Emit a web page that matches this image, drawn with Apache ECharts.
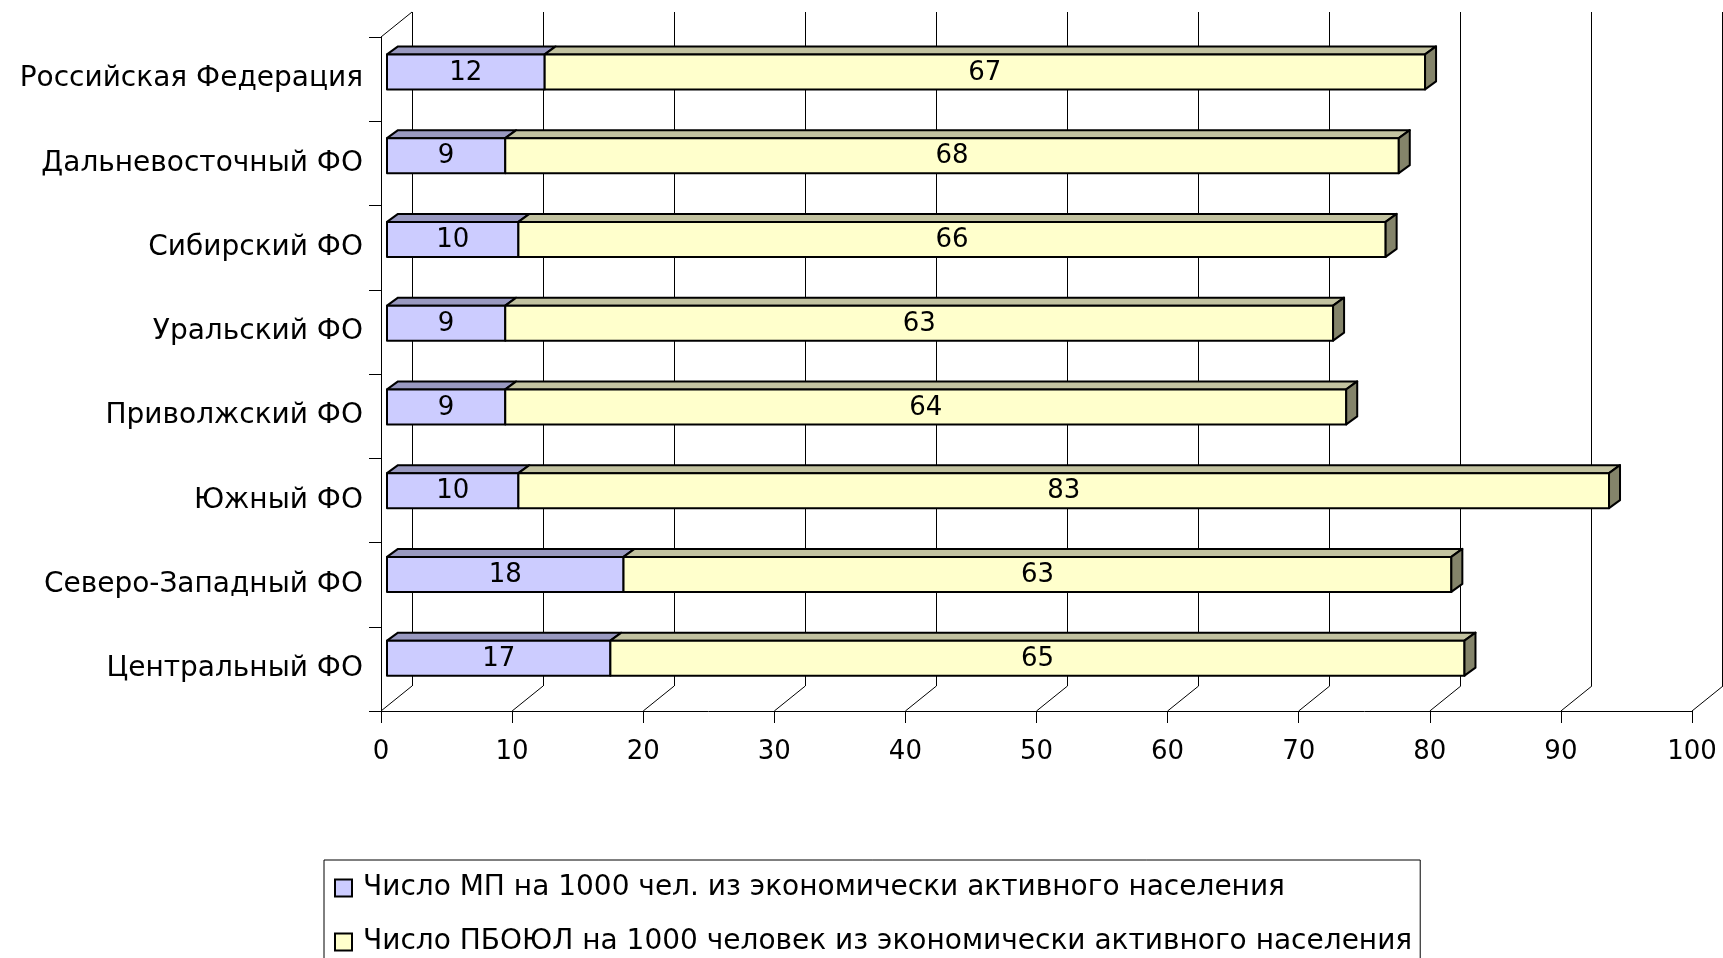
<!DOCTYPE html>
<html><head><meta charset="utf-8">
<script src="https://cdn.jsdelivr.net/npm/echarts@6/dist/echarts.min.js"></script>
<style>html,body{margin:0;padding:0;background:#fff}#c{width:1723px;height:958px}</style>
</head><body><div id="c"></div>
<script>
const categories = ['Российская Федерация','Дальневосточный ФО','Сибирский ФО','Уральский ФО','Приволжский ФО','Южный ФО','Северо-Западный ФО','Центральный ФО'];
const mpValues = [12, 9, 10, 9, 9, 10, 18, 17];
const pbValues = [67, 68, 66, 63, 64, 83, 63, 65];
const seriesNames = ['Число МП на 1000 чел. из экономически активного населения','Число ПБОЮЛ на 1000 человек из экономически активного населения'];
const xTicks = [0, 10, 20, 30, 40, 50, 60, 70, 80, 90, 100];

const FONT = 'DejaVu Sans';
const WALL_DX = 31, WALL_DY = 25;
const BAR_DX = 11, BAR_DY = 8, BAR_H = 35;
const colors = {
  mp: {front: '#CCCCFF', top: '#9999C0', side: '#7A7AA0'},
  pb: {front: '#FFFFCC', top: '#C2C2A0', side: '#84846A'}
};

const mpData = categories.map((c, i) => [i, 0, mpValues[i], mpValues[i]]);
const pbData = categories.map((c, i) => [i, mpValues[i], mpValues[i] + pbValues[i], pbValues[i]]);

function barRenderer(col, withSide) {
  return function (params, api) {
    const cat = api.value(0), s = api.value(1), e = api.value(2), lab = api.value(3);
    const p0 = api.coord([s, cat]);
    const p1 = api.coord([e, cat]);
    const x0 = p0[0], x1 = p1[0], yc = p0[1];
    const top = yc - BAR_H / 2, bot = yc + BAR_H / 2;
    const st = {stroke: '#000', lineWidth: 2, lineJoin: 'round'};
    const children = [
      {type: 'polygon', shape: {points: [[x0, top], [x0 + BAR_DX, top - BAR_DY], [x1 + BAR_DX, top - BAR_DY], [x1, top]]},
       style: Object.assign({fill: col.top}, st)},
      {type: 'rect', shape: {x: x0, y: top, width: x1 - x0, height: BAR_H},
       style: Object.assign({fill: col.front}, st)}
    ];
    if (withSide) {
      children.push({type: 'polygon', shape: {points: [[x1, top], [x1 + BAR_DX, top - BAR_DY], [x1 + BAR_DX, bot - BAR_DY], [x1, bot]]},
        style: Object.assign({fill: col.side}, st)});
    }
    children.push({type: 'text', style: {text: String(lab), x: (x0 + x1) / 2, y: yc + 1, align: 'center', verticalAlign: 'middle',
      font: '26px "' + FONT + '"', fill: '#000'}});
    return {type: 'group', children: children};
  };
}

const chart = echarts.init(document.getElementById('c'), null, {renderer: 'canvas'});
chart.setOption({
  animation: false,
  backgroundColor: '#fff',
  grid: [
    {left: 381, top: 37, width: 1311, height: 674},
    {left: 412, top: 12, width: 1310, height: 674},
    {left: 387, top: 30, width: 1314, height: 670}
  ],
  xAxis: [
    {gridIndex: 0, type: 'value', min: 0, max: 100, interval: 10,
     axisLine: {show: true, lineStyle: {color: '#000', width: 1}},
     axisTick: {show: true, length: 12, lineStyle: {color: '#000'}},
     axisLabel: {fontFamily: FONT, fontSize: 26, color: '#000', margin: 28},
     splitLine: {show: false}},
    {gridIndex: 1, type: 'value', min: 0, max: 100, interval: 10,
     axisLine: {show: false}, axisTick: {show: false}, axisLabel: {show: false},
     splitLine: {show: true, lineStyle: {color: '#000', width: 1}}},
    {gridIndex: 2, type: 'value', min: 0, max: 100, show: false}
  ],
  yAxis: [
    {gridIndex: 0, type: 'category', data: categories, inverse: true,
     axisLine: {show: true, lineStyle: {color: '#000', width: 1}},
     axisTick: {show: true, length: 12, lineStyle: {color: '#000'}},
     axisLabel: {fontFamily: FONT, fontSize: 28, color: '#000', margin: 18, padding: [6, 0, 0, 0]},
     splitLine: {show: false}},
    {gridIndex: 1, type: 'category', data: categories, inverse: true, show: false},
    {gridIndex: 2, type: 'category', data: categories, inverse: true, show: false}
  ],
  legend: {
    orient: 'vertical', left: 324, top: 860, height: 300,
    borderColor: '#000', borderWidth: 1,
    padding: [14, 8, 60, 10], itemGap: 26,
    itemWidth: 17, itemHeight: 17, icon: 'rect',
    textStyle: {fontFamily: FONT, fontSize: 28, color: '#000', padding: [0, 0, 0, 6]},
    data: [
      {name: seriesNames[0], itemStyle: {color: colors.mp.front, borderColor: '#000', borderWidth: 2}},
      {name: seriesNames[1], itemStyle: {color: colors.pb.front, borderColor: '#000', borderWidth: 2}}
    ]
  },
  series: [
    {type: 'custom', name: 'walls', xAxisIndex: 0, yAxisIndex: 0, silent: true,
     data: xTicks.map(v => [v, 0]),
     encode: {x: 0, y: 1},
     renderItem: function (params, api) {
       const v = api.value(0);
       const cs = params.coordSys;
       const x = api.coord([v, 0])[0];
       const bottom = cs.y + cs.height;
       const st = {stroke: '#000', lineWidth: 1};
       const ch = [{type: 'line', shape: {x1: x, y1: bottom, x2: x + WALL_DX, y2: bottom - WALL_DY}, style: st}];
       if (v === xTicks[0]) ch.push({type: 'line', shape: {x1: x, y1: cs.y, x2: x + WALL_DX, y2: cs.y - WALL_DY}, style: st});
       return {type: 'group', children: ch};
     }},
    {type: 'custom', name: seriesNames[0], xAxisIndex: 2, yAxisIndex: 2,
     data: mpData, encode: {x: [1, 2], y: 0},
     itemStyle: {color: colors.mp.front},
     renderItem: barRenderer(colors.mp, false)},
    {type: 'custom', name: seriesNames[1], xAxisIndex: 2, yAxisIndex: 2,
     data: pbData, encode: {x: [1, 2], y: 0},
     itemStyle: {color: colors.pb.front},
     renderItem: barRenderer(colors.pb, true)}
  ]
});
</script></body></html>
